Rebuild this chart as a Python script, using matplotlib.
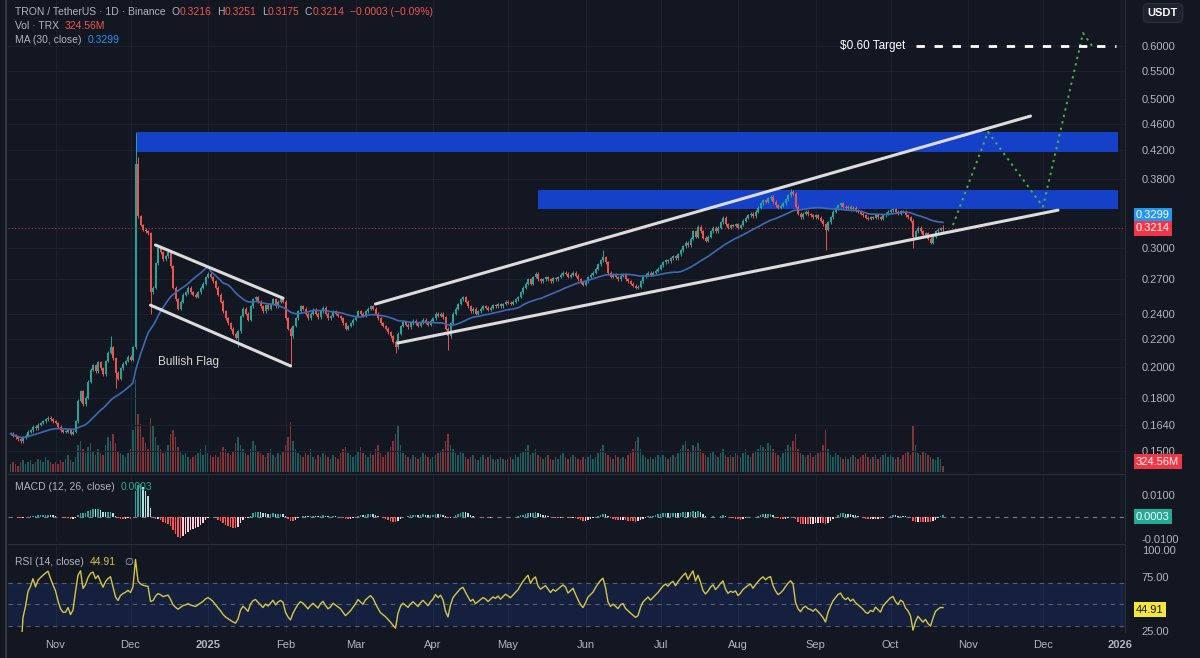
import numpy as np
import pandas as pd
import matplotlib
matplotlib.use('Agg')
import matplotlib.pyplot as plt
import matplotlib.dates as mdates
from matplotlib.ticker import NullLocator, FixedLocator

# daily closes TRX/USDT, one list per month
close_oct24 = [0.159, 0.158, 0.157, 0.156, 0.155, 0.157, 0.158, 0.160, 0.161, 0.163, 0.162, 0.164,
               0.165, 0.166, 0.167, 0.168, 0.167, 0.166]
close_nov24 = [0.165, 0.163, 0.161, 0.160, 0.160, 0.161, 0.159, 0.160, 0.166, 0.178, 0.184, 0.176,
               0.180, 0.190, 0.198, 0.201, 0.197, 0.203, 0.199, 0.195, 0.204, 0.210, 0.214, 0.206,
               0.196, 0.192, 0.199, 0.202, 0.204, 0.207]
close_dec24 = [0.205, 0.214, 0.400, 0.335, 0.325, 0.320, 0.318, 0.316, 0.258, 0.262, 0.285, 0.300,
               0.296, 0.289, 0.292, 0.296, 0.282, 0.262, 0.252, 0.244, 0.250, 0.256, 0.258, 0.262,
               0.258, 0.256, 0.254, 0.258, 0.262, 0.266, 0.272]
close_jan25 = [0.275, 0.272, 0.268, 0.262, 0.256, 0.250, 0.242, 0.236, 0.232, 0.228, 0.224, 0.221,
               0.226, 0.238, 0.244, 0.240, 0.235, 0.246, 0.252, 0.254, 0.250, 0.246, 0.242, 0.247,
               0.244, 0.248, 0.252, 0.246, 0.250, 0.252, 0.250]
close_feb25 = [0.236, 0.228, 0.222, 0.230, 0.236, 0.242, 0.246, 0.244, 0.240, 0.236, 0.240, 0.243,
               0.240, 0.237, 0.242, 0.245, 0.240, 0.236, 0.238, 0.242, 0.240, 0.238, 0.236, 0.232,
               0.228, 0.230, 0.232, 0.235]
close_mar25 = [0.238, 0.242, 0.240, 0.238, 0.242, 0.244, 0.246, 0.244, 0.240, 0.236, 0.232, 0.230,
               0.228, 0.225, 0.222, 0.218, 0.214, 0.224, 0.230, 0.233, 0.231, 0.229, 0.232, 0.234,
               0.232, 0.230, 0.233, 0.235, 0.233, 0.231, 0.234]
close_apr25 = [0.236, 0.240, 0.238, 0.240, 0.237, 0.228, 0.222, 0.232, 0.240, 0.244, 0.248, 0.252,
               0.254, 0.250, 0.246, 0.242, 0.244, 0.240, 0.242, 0.244, 0.246, 0.245, 0.243, 0.245,
               0.247, 0.246, 0.248, 0.246, 0.248, 0.250]
close_may25 = [0.249, 0.248, 0.250, 0.252, 0.254, 0.258, 0.262, 0.266, 0.270, 0.266, 0.272, 0.275,
               0.270, 0.268, 0.270, 0.272, 0.270, 0.268, 0.271, 0.270, 0.272, 0.274, 0.276, 0.275,
               0.272, 0.274, 0.276, 0.273, 0.270, 0.267, 0.265]
close_jun25 = [0.268, 0.272, 0.274, 0.276, 0.280, 0.284, 0.288, 0.291, 0.286, 0.276, 0.272, 0.274,
               0.272, 0.270, 0.273, 0.274, 0.270, 0.268, 0.266, 0.264, 0.262, 0.263, 0.268, 0.272,
               0.274, 0.276, 0.274, 0.276, 0.278, 0.280]
close_jul25 = [0.283, 0.286, 0.288, 0.287, 0.290, 0.292, 0.290, 0.294, 0.298, 0.302, 0.306, 0.303,
               0.310, 0.318, 0.312, 0.323, 0.318, 0.311, 0.308, 0.312, 0.318, 0.322, 0.318, 0.322,
               0.328, 0.333, 0.326, 0.322, 0.325, 0.324, 0.326]
close_aug25 = [0.322, 0.325, 0.330, 0.333, 0.336, 0.338, 0.335, 0.340, 0.345, 0.350, 0.354, 0.352,
               0.356, 0.358, 0.352, 0.348, 0.345, 0.347, 0.350, 0.355, 0.360, 0.364, 0.362, 0.346,
               0.338, 0.334, 0.338, 0.340, 0.337, 0.336, 0.334]
close_sep25 = [0.336, 0.333, 0.330, 0.326, 0.320, 0.328, 0.334, 0.340, 0.344, 0.348, 0.350, 0.346,
               0.344, 0.346, 0.343, 0.345, 0.342, 0.340, 0.338, 0.336, 0.333, 0.332, 0.334, 0.333,
               0.336, 0.334, 0.332, 0.336, 0.338, 0.340]
close_oct25 = [0.342, 0.343, 0.340, 0.338, 0.341, 0.340, 0.336, 0.334, 0.330, 0.312, 0.318, 0.322,
               0.318, 0.314, 0.316, 0.310, 0.306, 0.312, 0.318, 0.320, 0.3216, 0.3214]

# daily volume, hundreds of millions TRX
vol_oct24 = [4, 5, 4, 3, 5, 6, 4, 5, 6, 4, 5, 7, 6, 5, 8, 6, 5, 4]
vol_nov24 = [5, 4, 6, 5, 7, 9, 6, 5, 8, 14, 16, 12, 10, 13, 15, 11, 9, 12, 10, 9, 14, 18, 16, 20,
             15, 11, 10, 9, 8, 10]
vol_dec24 = [12, 22, 48, 30, 25, 18, 15, 12, 28, 24, 18, 14, 12, 10, 11, 14, 20, 22, 18, 13, 11, 9,
             10, 8, 7, 8, 9, 10, 12, 9, 14]
vol_jan25 = [10, 9, 8, 9, 8, 11, 13, 12, 10, 9, 11, 15, 18, 14, 12, 10, 9, 12, 16, 14, 11, 10, 9, 8,
             10, 12, 9, 8, 10, 9, 11]
vol_feb25 = [14, 18, 26, 16, 12, 10, 9, 8, 10, 9, 12, 8, 7, 9, 8, 10, 9, 8, 7, 9, 8, 7, 10, 12, 13,
             10, 9, 8]
vol_mar25 = [9, 11, 13, 10, 9, 8, 10, 9, 12, 14, 10, 8, 9, 11, 13, 16, 20, 24, 14, 10, 9, 8, 7, 9, 8,
             7, 8, 10, 9, 8, 7]
vol_apr25 = [8, 9, 10, 11, 12, 16, 20, 14, 12, 10, 9, 11, 10, 8, 7, 8, 9, 7, 6, 8, 9, 7, 8, 9, 7, 6,
             7, 8, 7, 6]
vol_may25 = [7, 8, 7, 9, 8, 10, 11, 12, 14, 9, 10, 12, 9, 8, 7, 8, 9, 7, 6, 8, 7, 9, 10, 8, 7, 8, 9,
             8, 7, 6, 8]
vol_jun25 = [7, 8, 9, 7, 8, 10, 12, 14, 10, 9, 8, 7, 9, 8, 7, 8, 7, 9, 10, 12, 16, 18, 12, 9, 8, 7,
             8, 7, 8, 9]
vol_jul25 = [8, 9, 8, 7, 8, 9, 8, 10, 12, 14, 16, 12, 11, 14, 13, 15, 12, 10, 9, 8, 10, 11, 9, 8, 10,
             12, 9, 8, 9, 8, 10]
vol_aug25 = [9, 8, 10, 12, 9, 8, 10, 11, 12, 14, 13, 12, 15, 14, 12, 10, 9, 8, 10, 12, 14, 13, 16,
             20, 12, 10, 9, 8, 9, 10, 8]
vol_sep25 = [9, 10, 11, 14, 22, 12, 9, 8, 10, 9, 8, 7, 8, 7, 8, 9, 8, 7, 8, 9, 10, 8, 7, 8, 9, 7, 8,
             9, 10, 8]
vol_oct25 = [9, 8, 7, 8, 7, 9, 10, 11, 9, 24, 14, 10, 9, 11, 10, 9, 8, 7, 6, 8, 7, 3.2456]

# notable wicks
wick_high = {'2024-11-23': 0.222, '2024-12-03': 0.445, '2024-12-04': 0.410,
             '2025-06-08': 0.298, '2025-08-22': 0.368, '2025-10-22': 0.3251}
wick_low = {'2024-11-25': 0.186, '2024-12-09': 0.240, '2025-01-13': 0.214,
            '2025-02-03': 0.200, '2025-03-17': 0.210, '2025-04-07': 0.212,
            '2025-09-05': 0.298, '2025-10-10': 0.300, '2025-10-22': 0.3175}

# drawings: (date, price)
flag_upper = [('2024-12-11', 0.3035), ('2025-01-31', 0.253)]
flag_lower = [('2024-12-09', 0.247), ('2025-02-03', 0.2006)]
wedge_upper = [('2025-03-09', 0.248), ('2025-11-26', 0.472)]
wedge_lower = [('2025-03-18', 0.217), ('2025-12-07', 0.342)]
projection = [('2025-10-26', 0.325), ('2025-11-09', 0.447), ('2025-12-01', 0.346),
              ('2025-12-17', 0.627), ('2025-12-21', 0.598)]
zone_top = ('2024-12-03', '2025-12-31', 0.417, 0.447)
zone_mid = ('2025-05-13', '2025-12-31', 0.343, 0.366)

closes = sum([close_oct24, close_nov24, close_dec24, close_jan25, close_feb25, close_mar25,
              close_apr25, close_may25, close_jun25, close_jul25, close_aug25, close_sep25,
              close_oct25], [])
vols = sum([vol_oct24, vol_nov24, vol_dec24, vol_jan25, vol_feb25, vol_mar25, vol_apr25,
            vol_may25, vol_jun25, vol_jul25, vol_aug25, vol_sep25, vol_oct25], [])

df = pd.DataFrame({'close': closes, 'vol': vols},
                  index=pd.date_range('2024-10-14', periods=len(closes), freq='D'))
df['open'] = df['close'].shift(1).fillna(0.159)
df['high'] = df[['open', 'close']].max(axis=1) * 1.005
df['low'] = df[['open', 'close']].min(axis=1) * 0.995
for d, v in wick_high.items():
    df.loc[d, 'high'] = v
for d, v in wick_low.items():
    df.loc[d, 'low'] = v

df['ma30'] = df['close'].rolling(30, min_periods=1).mean()
ema12 = df['close'].ewm(span=12, adjust=False).mean()
ema26 = df['close'].ewm(span=26, adjust=False).mean()
macd = ema12 - ema26
hist = macd - macd.ewm(span=9, adjust=False).mean()
delta = df['close'].diff().fillna(0)
up = delta.clip(lower=0).ewm(alpha=1 / 14, adjust=False).mean()
dn = (-delta.clip(upper=0)).ewm(alpha=1 / 14, adjust=False).mean()
rsi = 100 - 100 / (1 + up / dn.replace(0, 1e-9))

BG = '#131722'
GRID = '#1c2030'
TXT = '#b2b5be'
GREEN = '#26a69a'
RED = '#ef5350'

x = mdates.date2num(df.index)
up_mask = (df['close'] >= df['open']).values
x0 = mdates.date2num(pd.Timestamp('2024-10-13'))
xlim = (x0, x0 + 446.8)
months = pd.date_range('2024-11-01', '2026-01-01', freq='MS')
mx = mdates.date2num(months)
mlabels = [('2025' if m.month == 1 and m.year == 2025 else '2026' if m.year == 2026 else m.strftime('%b'))
           for m in months]

plt.rcParams['font.family'] = ['Liberation Sans', 'DejaVu Sans']
fig = plt.figure(figsize=(12, 6.58), dpi=100, facecolor=BG)
L, W = 8 / 1200, 1117 / 1200

# --- main pane ---
axv = fig.add_axes([L, 0.2827, W, 0.7173], facecolor=BG)
ax = fig.add_axes([L, 0.2827, W, 0.7173], facecolor='none')
axv.bar(x, df['vol'], width=0.7, color=np.where(up_mask, GREEN, RED), alpha=0.5, linewidth=0)
axv.set_ylim(0, 246)
axv.set_xlim(xlim)
axv.axis('off')

ax.set_yscale('log')
ax.set_ylim(0.1395, 0.7024)
ax.set_xlim(xlim)
cols = np.where(up_mask, GREEN, RED)
ax.vlines(x, df['low'], df['high'], colors=cols, lw=0.7, zorder=3)
body_lo = df[['open', 'close']].min(axis=1)
body_h = (df['close'] - df['open']).abs().clip(lower=0.0004)
ax.bar(x, body_h, bottom=body_lo, width=0.62, color=cols, linewidth=0, zorder=3)
ax.plot(x, df['ma30'], color='#3d6bb3', lw=1.2, zorder=4)

for (d0, d1, lo, hi) in (zone_top, zone_mid):
    ax.fill_between(mdates.date2num(pd.to_datetime([d0, d1])), lo, hi, color='#1540c8', lw=0, zorder=2)

for seg in (flag_upper, flag_lower, wedge_upper, wedge_lower):
    ax.plot(mdates.date2num(pd.to_datetime([p[0] for p in seg])), [p[1] for p in seg],
            color='#dcdcdc', lw=2.2, solid_capstyle='round', zorder=5)
ax.plot(mdates.date2num(pd.to_datetime([p[0] for p in projection])), [p[1] for p in projection],
        color='#4caf50', lw=1.4, ls=(0, (1.2, 2.2)), zorder=5)
ax.plot(mdates.date2num(pd.to_datetime(['2025-10-11', '2025-12-30'])), [0.6, 0.6],
        color='white', lw=2, ls=(0, (3, 3.5)), zorder=5)
ax.text(mdates.date2num(pd.Timestamp('2025-10-07')), 0.6, '$0.60 Target', color='white',
        fontsize=8.5, ha='right', va='center', zorder=6)
ax.text(mdates.date2num(pd.Timestamp('2024-12-12')), 0.203, 'Bullish Flag', color='#d8d8d8',
        fontsize=8.5, ha='left', va='center', zorder=6)
ax.axhline(0.3214, color='#f23645', lw=0.8, ls=(0, (1, 2)), alpha=0.8, zorder=1)

price_ticks = [0.15, 0.164, 0.18, 0.2, 0.22, 0.24, 0.27, 0.3, 0.38, 0.42, 0.46, 0.5, 0.55, 0.6]
ax.yaxis.set_major_locator(FixedLocator(price_ticks))
ax.yaxis.set_minor_locator(NullLocator())
ax.set_yticklabels([f'{t:.4f}' for t in price_ticks])
ax.yaxis.tick_right()
ax.tick_params(axis='y', colors=TXT, length=0, pad=12, labelsize=8)
ax.set_xticks(mx)
ax.tick_params(axis='x', length=0, labelbottom=False)
ax.grid(True, color=GRID, lw=0.8)
ax.set_axisbelow(True)

# --- MACD pane ---
axm = fig.add_axes([L, 0.1763, W, 0.1033], facecolor=BG)
prev = hist.shift(1).fillna(0)
hcols = np.where(hist >= 0, np.where(hist >= prev, '#26a69a', '#b2dfdb'),
                 np.where(hist < prev, '#ff5252', '#ffcdd2'))
axm.bar(x, hist, width=0.7, color=hcols, linewidth=0, zorder=3)
axm.axhline(0, color='#787b86', lw=0.8, ls=(0, (4, 4)), zorder=2)
axm.set_xlim(xlim)
axm.set_ylim(-0.0114, 0.0195)
axm.set_yticks([0.01, -0.01])
axm.set_yticklabels(['0.0100', '-0.0100'])
axm.yaxis.tick_right()
axm.tick_params(axis='y', colors=TXT, length=0, pad=12, labelsize=8)
axm.set_xticks(mx)
axm.tick_params(axis='x', length=0, labelbottom=False)
axm.grid(True, axis='x', color=GRID, lw=0.8)
axm.set_axisbelow(True)

# --- RSI pane ---
axr = fig.add_axes([L, 0.0395, W, 0.1337], facecolor=BG)
axr.axhspan(30, 70, color='#2962ff', alpha=0.13, lw=0, zorder=1)
for lvl in (70, 50, 30):
    axr.axhline(lvl, color='#787b86', lw=0.8, ls=(0, (4, 4)), alpha=0.7, zorder=2)
axr.plot(x, rsi, color='#d2c846', lw=1.0, zorder=3)
axr.set_xlim(xlim)
axr.set_ylim(24, 106)
axr.set_yticks([100, 75, 25])
axr.set_yticklabels(['100.00', '75.00', '25.00'])
axr.yaxis.tick_right()
axr.tick_params(axis='y', colors=TXT, length=0, pad=12, labelsize=8)
axr.set_xticks(mx)
axr.set_xticklabels(mlabels)
axr.tick_params(axis='x', colors=TXT, length=0, pad=6, labelsize=8)
for lab in axr.get_xticklabels():
    if lab.get_text().isdigit():
        lab.set_fontweight('bold')
axr.grid(True, axis='x', color=GRID, lw=0.8)
axr.set_axisbelow(True)

for a in (ax, axm, axr):
    for s in a.spines.values():
        s.set_visible(False)
    a.spines['right'].set_visible(True)
    a.spines['right'].set_color('#2a2e39')
for a in (axm, axr):
    a.spines['top'].set_visible(True)
    a.spines['top'].set_color('#2a2e39')
fig.add_artist(plt.Line2D([6 / 1200, 6 / 1200], [0, 1], color='#3a3e48', lw=1.2))

# value tags on the price scale (tag position nudged apart like TradingView does)
def tag(a, y, s, bg, fg='white'):
    a.text(1.0098, y, s, transform=a.get_yaxis_transform(), fontsize=8, color=fg,
           ha='left', va='center', zorder=10, clip_on=False,
           bbox=dict(boxstyle='square,pad=0.22', fc=bg, ec='none'))

tag(ax, 0.336, '0.3299', '#2196f3')
tag(ax, 0.3214, '0.3214', '#f23645')
tag(ax, 0.1445, '324.56M', '#f23645')
tag(axm, 0.0, '0.0003', '#22ab94')
tag(axr, 44.91, '44.91', '#f5e63c', fg='#131722')
fig.text(1163 / 1200, 1 - 13 / 658, 'USDT', color='white', fontsize=8, fontweight='bold',
         ha='center', va='center', bbox=dict(boxstyle='round,pad=0.4', fc='#1e222d', ec='#2a2e39'))

# legends: (text, colour, gap before it in points)
def legend_row(a, xy, parts, size=7.5):
    prev = None
    for s, c, gap in parts:
        if prev is None:
            prev = a.text(xy[0], xy[1], s, color=c, fontsize=size, transform=a.transAxes,
                          ha='left', va='bottom', zorder=10)
        else:
            prev = a.annotate(s, xy=(1, 0), xycoords=prev, xytext=(gap, 0),
                              textcoords='offset points', color=c, fontsize=size,
                              ha='left', va='bottom', zorder=10)

legend_row(ax, (0.0065, 0.963), [('TRON / TetherUS · 1D · Binance', TXT, 0), ('O', TXT, 4),
                                 ('0.3216', RED, 0), ('H', TXT, 4), ('0.3251', RED, 0),
                                 ('L', TXT, 4), ('0.3175', RED, 0), ('C', TXT, 4),
                                 ('0.3214', RED, 0), ('−0.0003 (−0.09%)', RED, 4)])
legend_row(ax, (0.0065, 0.934), [('Vol · TRX', TXT, 0), ('324.56M', RED, 4)])
legend_row(ax, (0.0065, 0.905), [('MA (30, close)', TXT, 0), ('0.3299', '#2196f3', 4)])
legend_row(axm, (0.0065, 0.74), [('MACD (12, 26, close)', TXT, 0), ('0.0003', '#22ab94', 4)])
legend_row(axr, (0.0065, 0.74), [('RSI (14, close)', TXT, 0), ('44.91', '#d2c846', 4), ('∅', TXT, 6)])

fig.savefig('out.png', dpi=100, facecolor=BG)
